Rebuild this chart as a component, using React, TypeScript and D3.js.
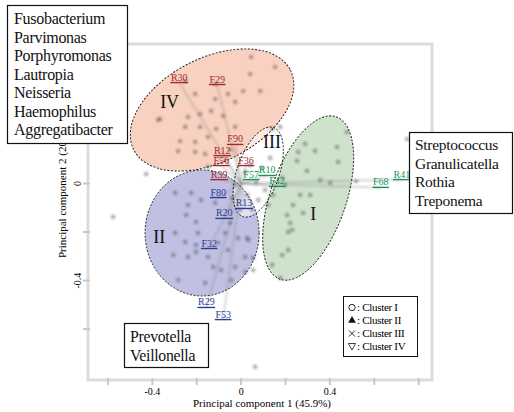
import React, { useEffect, useRef } from 'react';
import * as d3 from 'd3';

// sample scores (PC1, PC2)
const clusterIV = [
  [0.045, 0.521], [-0.252, 0.423], [-0.117, 0.41], [-0.207, 0.369], [-0.117, 0.348], [-0.059, 0.369],
  [-0.027, 0.336], [-0.365, 0.266], [-0.239, 0.274], [-0.185, 0.286], [-0.135, 0.299], [-0.081, 0.278],
  [-0.252, 0.233], [-0.185, 0.233], [-0.275, 0.175], [-0.207, 0.171], [-0.149, 0.192], [-0.113, 0.225],
  [-0.027, 0.233], [-0.207, 0.13], [-0.162, 0.122], [-0.284, 0.134], [-0.149, 0.068], [0.153, 0.48],
  [0.041, 0.451], [0.009, 0.381], [0.086, 0.381], [-0.374, 0.262], [-0.05, 0.138],
];
const clusterIII = [
  [0.176, 0.233], [0.14, 0.225], [0.041, 0.076], [0.095, 0.064], [0.131, 0.105], [0.068, 0.006],
  [0.108, -0.027], [0.027, -0.047], [0.144, -0.047], [-0.027, -0.006], [0.077, -0.068], [0.05, -0.109],
  [0.122, -0.089], [0.018, 0.047], [0.185, 0.023], [0.401, 0.002], [0.518, 0.01], [-0.041, -0.06],
  [-0.005, -0.109],
];
const clusterI = [
  [0.288, 0.163], [0.257, 0.13], [0.333, 0.134], [0.432, 0.15], [0.252, 0.093], [0.437, 0.089],
  [0.297, 0.052], [0.477, 0.212], [0.266, -0.047], [0.311, -0.047], [0.234, -0.089], [0.279, -0.122],
  [0.207, -0.13], [0.221, -0.163], [0.212, -0.2], [0.23, -0.192], [0.185, -0.295], [0.212, -0.274],
  [0.14, -0.336], [0.176, -0.39], [0.356, 0.014], [0.198, -0.006],
];
const clusterII = [
  [-0.297, -0.039], [-0.225, -0.039], [-0.239, -0.089], [-0.18, -0.068], [-0.117, -0.08], [-0.248, -0.13],
  [-0.203, -0.159], [-0.297, -0.204], [-0.252, -0.241], [-0.203, -0.254], [-0.194, -0.204], [-0.306, -0.295],
  [-0.239, -0.303], [-0.203, -0.282], [-0.149, -0.303], [-0.104, -0.245], [-0.059, -0.274], [-0.014, -0.225],
  [0.032, -0.233], [-0.072, -0.204], [-0.126, -0.344], [-0.09, -0.357], [-0.027, -0.344], [-0.284, -0.398],
  [-0.162, -0.41], [-0.045, -0.398], [0.018, -0.365], [-0.05, -0.163], [0.054, -0.307], [0.018, -0.303],
  [0.054, -0.357], [0.027, -0.225],
];
const outliers = [
  [-0.428, 0.039], [-0.577, -0.138], [0.063, -0.756], [0.748, 0.183],
];

// loading vectors: name, PC1, PC2, group
const loadings = [
  ['R30', -0.279, 0.416, 'IV'], ['F29', -0.108, 0.408, 'IV'], ['F90', -0.027, 0.161, 'IV'],
  ['R12', -0.085, 0.115, 'IV'], ['F56', -0.09, 0.074, 'IV'], ['F36', 0.022, 0.074, 'IV'],
  ['R39', -0.099, 0.016, 'IV'],
  ['F57', 0.045, 0.016, 'I'], ['R10', 0.117, 0.033, 'I'], ['F42', 0.162, -0.012, 'I'],
  ['F68', 0.629, -0.016, 'I'], ['R41', 0.724, 0.016, 'I'],
  ['F80', -0.103, -0.058, 'II'], ['R13', 0.013, -0.103, 'II'], ['R20', -0.076, -0.144, 'II'],
  ['F32', -0.144, -0.268, 'II'], ['R29', -0.157, -0.511, 'II'], ['F53', -0.081, -0.561, 'II'],
];

// cluster ellipses: name, cx, cy, rx, ry (PC1 units), angle
const ellipses = [
  ['IV', -0.131, 0.303, 0.396, 0.234, -27],
  ['II', -0.176, -0.204, 0.257, 0.284, 0],
  ['I', 0.302, -0.06, 0.171, 0.387, 19],
  ['III', 0.077, 0.047, 0.095, 0.212, 19],
];
const ellipseFill = { IV: '#f9cdbb', II: '#babbe0', I: '#cadfc8', III: '#ffffff' };
const labelColor = { IV: '#a12a30', I: '#17955a', II: '#2b3c92' };
const numerals = [['IV', -0.365, 0.31], ['II', -0.396, -0.244], ['III', 0.099, 0.146], ['I', 0.311, -0.151]];

const xTicks = [-0.6, -0.4, -0.2, 0, 0.2, 0.4, 0.6, 0.8];
const yTicks = [0.4, 0.2, 0, -0.2, -0.4, -0.6];
const xTickLabels = [-0.4, 0, 0.4];
const yTickLabels = [0, -0.4];

const boxTopLeft = ['Fusobacterium', 'Parvimonas', 'Porphyromonas', 'Lautropia', 'Neisseria', 'Haemophilus', 'Aggregatibacter'];
const boxRight = ['Streptococcus', 'Granulicatella', 'Rothia', 'Treponema'];
const boxBottom = ['Prevotella', 'Veillonella'];
const legendItems = ['Cluster I', 'Cluster II', 'Cluster III', 'Cluster IV'];

const serif = 'Liberation Serif, Times New Roman, serif';

export default function App() {
  const ref = useRef(null);

  useEffect(() => {
    const svg = d3.select(ref.current);
    svg.selectAll('*').remove();

    const x = d3.scaleLinear().domain([-0.69, 0.86]).range([88, 432]);
    const y = d3.scaleLinear().domain([0.575, -0.81]).range([44, 380]);
    const k = x(1) - x(0);

    const defs = svg.append('defs');
    defs.append('filter').attr('id', 'blur')
      .append('feGaussianBlur').attr('stdDeviation', 1);
    defs.append('filter').attr('id', 'blur2')
      .append('feGaussianBlur').attr('stdDeviation', 0.8);

    // frame + ticks
    svg.append('rect').attr('x', 88).attr('y', 44).attr('width', 344).attr('height', 336)
      .attr('fill', 'white').attr('stroke', '#dcdcdc').attr('stroke-width', 3);
    svg.append('g').selectAll('line').data(xTicks).join('line')
      .attr('x1', d => x(d)).attr('x2', d => x(d)).attr('y1', 378).attr('y2', 385)
      .attr('stroke', '#c8c8c8').attr('stroke-width', 2);
    svg.append('g').selectAll('line').data(yTicks).join('line')
      .attr('y1', d => y(d)).attr('y2', d => y(d)).attr('x1', 83).attr('x2', 90)
      .attr('stroke', '#c8c8c8').attr('stroke-width', 2);

    // ellipse fills
    svg.append('g').selectAll('ellipse').data(ellipses).join('ellipse')
      .attr('cx', 0).attr('cy', 0)
      .attr('rx', d => d[3] * k).attr('ry', d => d[4] * k)
      .attr('transform', d => `translate(${x(d[1])},${y(d[2])}) rotate(${d[5]})`)
      .attr('fill', d => ellipseFill[d[0]])
      .attr('fill-opacity', d => (d[0] === 'III' ? 0.55 : 0.92));

    // loading lines
    svg.append('g').attr('filter', 'url(#blur2)').selectAll('line').data(loadings).join('line')
      .attr('x1', x(0)).attr('y1', y(0))
      .attr('x2', d => x(d[1])).attr('y2', d => y(d[2]))
      .attr('stroke', '#8a8a8a').attr('stroke-opacity', 0.35).attr('stroke-width', 2);

    // points
    const all = [...clusterIV, ...clusterIII, ...clusterI, ...clusterII, ...outliers];
    svg.append('g').attr('filter', 'url(#blur)').selectAll('circle').data(all).join('circle')
      .attr('cx', d => x(d[0])).attr('cy', d => y(d[1])).attr('r', 2.4)
      .attr('fill', '#4a4a4a').attr('fill-opacity', 0.42);

    // ellipse outlines
    svg.append('g').selectAll('ellipse').data(ellipses).join('ellipse')
      .attr('cx', 0).attr('cy', 0)
      .attr('rx', d => d[3] * k).attr('ry', d => d[4] * k)
      .attr('transform', d => `translate(${x(d[1])},${y(d[2])}) rotate(${d[5]})`)
      .attr('fill', 'none').attr('stroke', '#111').attr('stroke-width', 0.9)
      .attr('stroke-dasharray', '2,1.6');

    // numerals
    svg.append('g').selectAll('text').data(numerals).join('text')
      .attr('x', d => x(d[1])).attr('y', d => y(d[2]))
      .attr('font-family', serif).attr('font-size', 18).attr('fill', '#111')
      .text(d => d[0]);

    // loading labels with underline
    const lg = svg.append('g').selectAll('g').data(loadings).join('g')
      .attr('transform', d => `translate(${x(d[1])},${y(d[2]) - 2})`);
    lg.append('text').attr('text-anchor', 'middle').attr('font-family', serif)
      .attr('font-size', 10).attr('fill', d => labelColor[d[3]]).text(d => d[0]);
    lg.each(function () {
      const g = d3.select(this);
      const w = g.select('text').node().getComputedTextLength();
      g.append('line').attr('x1', -w / 2 - 0.5).attr('x2', w / 2 + 0.5).attr('y1', 2).attr('y2', 2)
        .attr('stroke', labelColor[g.datum()[3]]).attr('stroke-width', 1.4);
    });

    // axis labels
    svg.append('g').selectAll('text').data(xTickLabels).join('text')
      .attr('x', d => x(d)).attr('y', 395).attr('text-anchor', 'middle')
      .attr('font-family', serif).attr('font-size', 10).text(d => (d === 0 ? '0' : d));
    svg.append('g').selectAll('text').data(yTickLabels).join('text')
      .attr('transform', d => `translate(81,${y(d)}) rotate(-90)`).attr('text-anchor', 'middle')
      .attr('font-family', serif).attr('font-size', 10).text(d => (d === 0 ? '0' : d));
    svg.append('text').attr('x', 262).attr('y', 407).attr('text-anchor', 'middle')
      .attr('font-family', serif).attr('font-size', 11).text('Principal component 1 (45.9%)');
    svg.append('text').attr('transform', 'translate(66,189) rotate(-90)').attr('text-anchor', 'middle')
      .attr('font-family', serif).attr('font-size', 11).text('Principal component 2 (20.3%)');

    // text boxes
    const box = (bx, by, bw, bh, lines, tx, ty, step, fs) => {
      const g = svg.append('g');
      g.append('rect').attr('x', bx).attr('y', by).attr('width', bw).attr('height', bh)
        .attr('fill', 'white').attr('stroke', '#111').attr('stroke-width', 1.2);
      g.selectAll('text').data(lines).join('text')
        .attr('x', tx).attr('y', (d, i) => ty + i * step)
        .attr('font-family', serif).attr('font-size', fs).attr('letter-spacing', -0.3)
        .attr('fill', '#111').text(d => d);
    };
    box(7.5, 5.5, 120, 138, boxTopLeft, 14, 24, 18.5, 16);
    box(409.5, 132.5, 103, 81, boxRight, 415, 150, 18.7, 15.5);
    box(124.5, 323.5, 84, 44, boxBottom, 130, 342, 18.5, 15.8);

    // legend
    const leg = svg.append('g');
    leg.append('rect').attr('x', 343.5).attr('y', 296.5).attr('width', 74).attr('height', 60)
      .attr('fill', 'white').attr('stroke', '#111').attr('stroke-width', 1);
    const ly = i => 311 + i * 13;
    leg.append('circle').attr('cx', 352).attr('cy', ly(0) - 3.5).attr('r', 3.2)
      .attr('fill', 'none').attr('stroke', '#111').attr('stroke-width', 0.9);
    leg.append('path').attr('d', d3.symbol(d3.symbolTriangle, 26)())
      .attr('transform', `translate(352,${ly(1) - 3.5})`).attr('fill', '#111');
    leg.append('path').attr('d', 'M-3,-3L3,3M-3,3L3,-3')
      .attr('transform', `translate(352,${ly(2) - 3.5})`).attr('stroke', '#111').attr('stroke-width', 0.9);
    leg.append('path').attr('d', 'M-3.6,-3L3.6,-3L0,3.5Z')
      .attr('transform', `translate(352,${ly(3) - 3.5})`).attr('fill', 'none')
      .attr('stroke', '#111').attr('stroke-width', 0.8);
    leg.selectAll('text').data(legendItems).join('text')
      .attr('x', 357).attr('y', (d, i) => ly(i))
      .attr('font-family', serif).attr('font-size', 11).attr('letter-spacing', -0.3)
      .text(d => ': ' + d);
  }, []);

  return (
    <svg ref={ref} width={514} height={412}
      style={{ position: 'absolute', left: 0, top: 0, background: 'white' }} />
  );
}
